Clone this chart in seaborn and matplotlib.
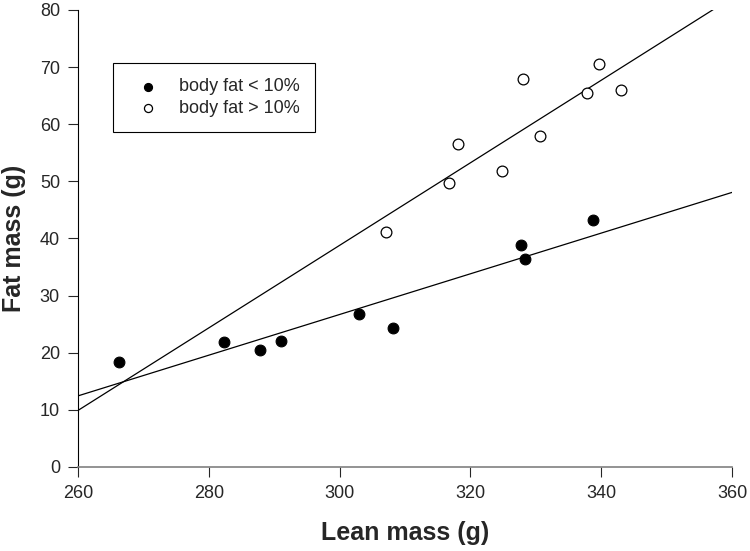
import pandas as pd
import matplotlib
matplotlib.use("Agg")
import matplotlib.pyplot as plt
import seaborn as sns

# data
lean_low = [266.2, 282.4, 287.9, 291.0, 303.0, 308.2, 327.7, 328.3, 338.7]
fat_low = [18.3, 21.8, 20.5, 22.0, 26.7, 24.4, 38.8, 36.4, 43.2]
lean_high = [307.1, 316.7, 318.1, 324.9, 328.0, 330.7, 337.9, 339.7, 343.0]
fat_high = [41.2, 49.7, 56.5, 51.8, 67.9, 58.0, 65.4, 70.5, 65.9]
x_ticks = [260, 280, 300, 320, 340, 360]
y_ticks = [0, 10, 20, 30, 40, 50, 60, 70, 80]

low = pd.DataFrame({"lean": lean_low, "fat": fat_low})
high = pd.DataFrame({"lean": lean_high, "fat": fat_high})

sns.set_style("ticks")
plt.rcParams["font.family"] = ["Liberation Sans", "DejaVu Sans"]

fig = plt.figure(figsize=(7.5, 5.51), dpi=100)
ax = fig.add_axes([0.104, 0.1525, 0.872, 0.8295])
ax.set_xlim(260, 360)
ax.set_ylim(0, 80)

# regression lines across the full x range
sns.regplot(data=low, x="lean", y="fat", scatter=False, ci=None, truncate=False,
            line_kws={"color": "black", "lw": 0.9}, ax=ax)
sns.regplot(data=high, x="lean", y="fat", scatter=False, ci=None, truncate=False,
            line_kws={"color": "black", "lw": 0.9}, ax=ax)

sns.scatterplot(data=low, x="lean", y="fat", color="black", edgecolor="black",
                s=60, linewidth=0.8, label="body fat < 10%", ax=ax, zorder=3)
sns.scatterplot(data=high, x="lean", y="fat", color="white", edgecolor="black",
                s=60, linewidth=0.9, label="body fat > 10%", ax=ax, zorder=3)

ax.set_xlim(260, 360)
ax.set_ylim(0, 80)
ax.set_xticks(x_ticks)
ax.set_yticks(y_ticks)
ax.tick_params(labelsize=13, length=7, width=0.8, direction="out")
ax.tick_params(axis="x", pad=6)
ax.tick_params(axis="y", pad=6)
ax.set_xlabel("Lean mass (g)", fontsize=18, fontweight="bold", labelpad=14)
ax.set_ylabel("Fat mass (g)", fontsize=18, fontweight="bold", labelpad=10)
sns.despine(ax=ax)
ax.spines["left"].set_color("black")
ax.spines["bottom"].set_color("#808080")
ax.spines["left"].set_linewidth(0.8)
ax.spines["bottom"].set_linewidth(1.2)

leg = ax.legend(loc="upper left", bbox_to_anchor=(0.053, 0.884), fontsize=13,
                frameon=True, fancybox=False, edgecolor="black", framealpha=1,
                borderpad=0.85, handlelength=2.2, handletextpad=0.6,
                labelspacing=0.25, borderaxespad=0, markerscale=0.75)
leg.get_frame().set_linewidth(0.8)

plt.savefig("out.png", dpi=100)
